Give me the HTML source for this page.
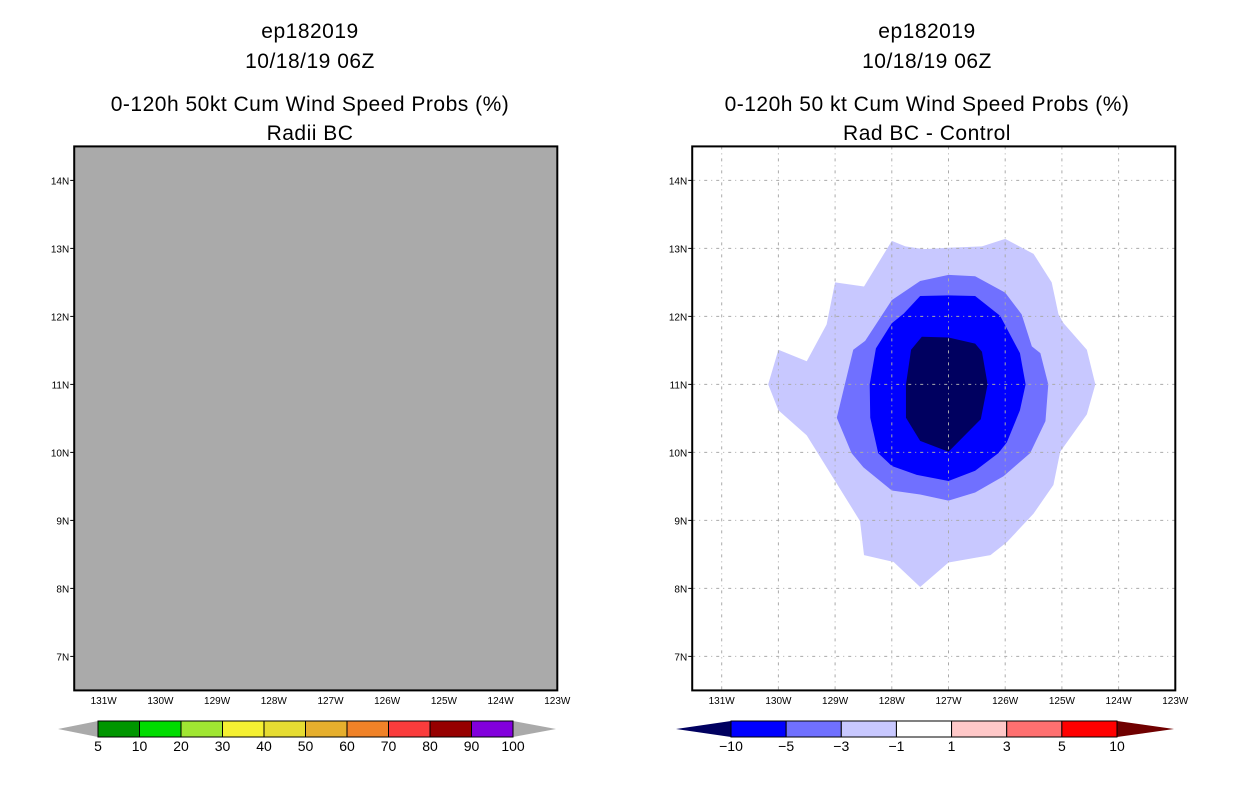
<!DOCTYPE html>
<html><head><meta charset="utf-8"><style>
body{margin:0;background:#fff;width:1236px;height:800px;overflow:hidden}
svg{display:block}
text{font-family:"Liberation Sans",sans-serif;fill:#000}
</style></head><body>
<svg id="s" width="1236" height="800" viewBox="0 0 1236 800"></svg>
<script>
// ---- data ----
const lonTicks=[131,130,129,128,127,126,125,124,123];
const latTicks=[14,13,12,11,10,9,8,7];
const leftLevels=["5","10","20","30","40","50","60","70","80","90","100"];
const leftColors=["#009600","#00dc00","#a0e632","#f5f032","#e6dc32","#e6af2d","#f08228","#fa3c3c","#960000","#8200dc"];
const rightLevels=["-10","-5","-3","-1","1","3","5","10"];
const rightColors=["#0000ff","#7070ff","#c8c8ff","#ffffff","#ffc8c8","#ff7070","#ff0000"];
const contourLonM1=[128.0,127.76,127.44,127.0,126.41,126.0,125.5,125.18,125.06,124.97,124.56,124.41,124.56,125.03,125.15,125.5,125.97,126.26,127.0,127.5,127.97,128.49,128.56,129.03,129.5,130.0,130.18,130.0,129.5,129.15,129.0,128.49];
const contourLatM1=[13.11,13.03,12.99,13.01,13.03,13.14,12.92,12.5,12.03,11.9,11.51,11.0,10.56,10.01,9.52,9.1,8.68,8.49,8.38,8.02,8.39,8.49,8.99,9.62,10.25,10.62,11.0,11.51,11.34,11.88,12.5,12.44];
const contourLonM3=[127.0,126.53,126.0,125.71,125.53,125.38,125.24,125.29,125.56,126.03,126.53,127.0,127.5,128.0,128.5,128.71,128.97,128.68,128.47,128.0,127.5];
const contourLatM3=[12.61,12.59,12.35,12.03,11.56,11.46,11.0,10.46,9.99,9.65,9.41,9.29,9.38,9.44,9.78,9.99,10.51,11.51,11.64,12.24,12.52];
const contourLonM5=[127.5,127.0,126.53,126.09,125.74,125.64,125.74,125.97,126.12,126.53,127.0,127.56,128.0,128.24,128.38,128.39,128.28,128.0,127.79];
const contourLatM5=[12.3,12.31,12.3,12.01,11.46,11.0,10.62,10.15,9.99,9.73,9.58,9.67,9.8,9.99,10.51,11.0,11.53,11.9,12.04];
const contourLonM10=[127.47,127.0,126.53,126.41,126.31,126.43,127.0,127.5,127.75,127.75,127.66];
const contourLatM10=[11.7,11.69,11.6,11.48,11.0,10.49,10.01,10.17,10.51,11.0,11.51];

const S=document.getElementById('s');
const NS='http://www.w3.org/2000/svg';
function mk(tag,attrs,parent){const e=document.createElementNS(NS,tag);for(const k in attrs)e.setAttribute(k,attrs[k]);(parent||S).appendChild(e);return e;}
function xS(lonW,off){return 721.7-(lonW-131)*56.7+off;}
function yS(lat){return 180.4-(lat-14)*68;}

function drawPanel(off,name,titles,gray,polys){
  const center=off===0?927:310;
  const g=mk('g',{});
  
  
  const ys=[38,68,111,140];
  ["ep182019","10/18/19 06Z",titles[0],titles[1]].forEach((t,i)=>{
    const e=mk('text',{x:center,y:ys[i],'text-anchor':'middle','font-size':21,'letter-spacing':'0.5'},g);
    e.textContent=t;
    
    
  });
  const L=xS(131.52,off),R=xS(123,off),T=yS(14.5),B=yS(6.5);
  const bg=mk('rect',{x:L,y:T,width:R-L,height:B-T,fill:gray?'#aaaaaa':'#ffffff'},g);
  
  
  polys.forEach(p=>{
    const pts=p.lon.map((v,i)=>xS(v,off)+','+yS(p.lat[i])).join(' ');
    const e=mk('polygon',{points:pts,fill:p.c},g);
    
    
  });
  if(!gray){
    lonTicks.slice(0,8).forEach(v=>{const x=xS(v,off);const e=mk('line',{x1:x,x2:x,y1:T,y2:B,stroke:'#aaa',"stroke-width":1,"stroke-dasharray":"3,4,1,4"},g);
      });
    latTicks.forEach(v=>{const y=yS(v);const e=mk('line',{x1:L,x2:R,y1:y,y2:y,stroke:'#aaa',"stroke-width":1,"stroke-dasharray":"3,4,1,4"},g);
      });
  }
  const fr=mk('rect',{x:L,y:T,width:R-L,height:B-T,fill:'none',stroke:'#000','stroke-width':2},g);
  
  
  latTicks.forEach(v=>{const y=yS(v);
    mk('line',{x1:L-4,x2:L,y1:y,y2:y,stroke:'#000'},g);
    const e=mk('text',{x:L-5,y:y+4,'text-anchor':'end','font-size':10},g);e.textContent=v+'N';
    });
  lonTicks.forEach(v=>{const x=xS(v,off);
    const e=mk('text',{x:x,y:704,'text-anchor':'middle','font-size':10},g);e.textContent=v+'W';
    });
  return g;
}

function colorbar(name,x0,x1,tl,tr,colors,labels,lcol,rcol){
  const g=mk('g',{});
  
  
  const yT=721,yB=737,yM=729,w=(x1-x0)/colors.length;
  const a=mk('polygon',{points:`${tl},${yM} ${x0},${yT} ${x0},${yB}`,fill:lcol},g);
  
  const b=mk('polygon',{points:`${tr},${yM} ${x1},${yT} ${x1},${yB}`,fill:rcol},g);
  
  colors.forEach((c,i)=>{const e=mk('rect',{x:x0+i*w,y:yT,width:w,height:yB-yT,fill:c,stroke:'#000','stroke-width':1},g);
    });
  labels.forEach((t,i)=>{const x=x0+i*w;
    const e=mk('text',{x:x,y:751,'text-anchor':'middle','font-size':14},g);e.textContent=t.replace('-','\u2212');
    });
}

drawPanel(-618,'left-panel',["0-120h 50kt Cum Wind Speed Probs (%)","Radii BC"],true,[]);
drawPanel(0,'right-panel',["0-120h 50 kt Cum Wind Speed Probs (%)","Rad BC - Control"],false,[
  {lon:contourLonM1,lat:contourLatM1,c:'#c8c8ff',n:'contour-minus1'},
  {lon:contourLonM3,lat:contourLatM3,c:'#7070ff',n:'contour-minus3'},
  {lon:contourLonM5,lat:contourLatM5,c:'#0000ff',n:'contour-minus5'},
  {lon:contourLonM10,lat:contourLatM10,c:'#000060',n:'contour-minus10'}]);
colorbar('left-colorbar',98,513,58,556,leftColors,leftLevels,'#aaaaaa','#aaaaaa');
colorbar('right-colorbar',731,1117,676,1174,rightColors,rightLevels,'#000060','#700000');
</script>
</body></html>
